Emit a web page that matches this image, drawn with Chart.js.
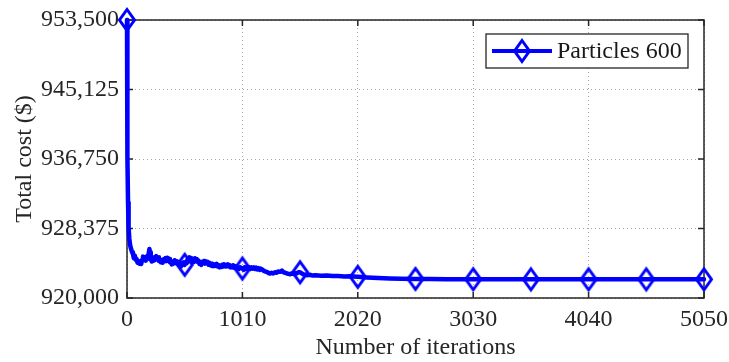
<!DOCTYPE html>
<html lang="en">
<head>
<meta charset="UTF-8">
<title>Total cost vs iterations</title>
<script src="https://cdn.jsdelivr.net/npm/chart.js"></script>
<style>
  body { margin: 0; background: #fff; }
</style>
</head>
<body>
<canvas id="chart" width="729" height="362"></canvas>
<script>
// values (iteration, total cost)
var iterations = [
  0, 2, 5, 9, 14, 20, 28, 36, 45, 52,
  60, 68, 76, 84, 92, 100, 108, 116, 124, 132,
  140, 148, 156, 164, 172, 180, 188, 196, 202, 208,
  216, 224, 232, 240, 248, 256, 264, 272, 280, 288,
  296, 304, 312, 320, 328, 336, 344, 352, 360, 368,
  376, 384, 392, 400, 408, 416, 424, 432, 440, 448,
  456, 464, 472, 480, 488, 496, 505, 514, 522, 530,
  538, 546, 554, 562, 570, 578, 586, 594, 602, 610,
  618, 626, 634, 642, 650, 658, 666, 674, 682, 690,
  698, 706, 714, 722, 730, 738, 746, 754, 762, 770,
  778, 786, 794, 802, 810, 818, 826, 834, 842, 850,
  858, 866, 874, 882, 890, 898, 906, 914, 922, 930,
  940, 950, 960, 970, 980, 990, 1010, 1020, 1030, 1040,
  1050, 1060, 1070, 1080, 1090, 1100, 1110, 1120, 1130, 1140,
  1150, 1160, 1170, 1181, 1195, 1210, 1225, 1240, 1252, 1265,
  1280, 1295, 1310, 1325, 1340, 1356, 1370, 1385, 1400, 1415,
  1427, 1440, 1455, 1470, 1485, 1500, 1515, 1530, 1545, 1560,
  1575, 1600, 1625, 1650, 1700, 1750, 1800, 1850, 1900, 1950,
  2020, 2100, 2200, 2300, 2400, 2525, 2650, 2800, 3030, 3535,
  4040, 4545, 5050
];
var totalCost = [
  953500, 945000, 937000, 931500, 928500, 927200, 926300, 925900, 925500, 925300,
  924800, 925100, 924600, 924700, 924250, 924450, 924150, 924350, 924100, 924600,
  925000, 924600, 924900, 924500, 925000, 924700, 925200, 925900, 925500, 924800,
  924400, 924750, 924500, 924900, 924600, 925050, 924700, 924900, 924450, 924650,
  924300, 924500, 924250, 924650, 924500, 924800, 924450, 924850, 924600, 924700,
  924300, 924450, 924050, 924350, 924150, 924550, 924250, 924450, 924150, 924350,
  923950, 924200, 923800, 924150, 924000, 924300, 924000, 924350, 924200, 924650,
  924400, 924900, 924550, 924800, 924400, 924650, 924350, 924800, 924500, 924700,
  924350, 924500, 924100, 924300, 924000, 924350, 924200, 924450, 924150, 924400,
  924200, 924350, 924000, 924250, 923950, 924150, 923850, 924100, 923850, 924050,
  923900, 924100, 923800, 923950, 923700, 923900, 923750, 924000, 923800, 924050,
  923800, 923950, 923850, 924050, 923800, 923950, 923700, 923850, 923700, 923950,
  923650, 923800, 923600, 923700, 923500, 923700, 923550, 923400, 923700, 923500,
  923750, 923550, 923700, 923500, 923700, 923550, 923700, 923500, 923650, 923450,
  923600, 923400, 923550, 923450, 923300, 923200, 923150, 923000, 922950, 923050,
  922950, 923100, 923050, 923200, 923150, 923300, 923100, 923050, 922950, 922900,
  922850, 922950, 922900, 923000, 922950, 923100, 923100, 922950, 922850, 922800,
  922750, 922800, 922700, 922750, 922680, 922700, 922640, 922650, 922600, 922610,
  922550, 922480, 922420, 922360, 922320, 922300, 922280, 922270, 922260, 922250,
  922250, 922250, 922250
];
var markerIterations = [0, 505, 1010, 1515, 2020, 2525, 3030, 3535, 4040, 4545, 5050];
var xTicks = [0, 1010, 2020, 3030, 4040, 5050];
var yTicks = [920000, 928375, 936750, 945125, 953500];
var seriesLabel = 'Particles 600';

var blue = '#0000ff';
var axisColor = '#262626';
var fontFamily = '"Liberation Serif", "Times New Roman", serif';

// tall hollow diamond marker
function makeDiamond() {
  var c = document.createElement('canvas');
  c.width = 22; c.height = 28;
  var g = c.getContext('2d');
  g.strokeStyle = blue;
  g.lineWidth = 3;
  g.lineJoin = 'miter';
  g.beginPath();
  g.moveTo(11, 3.5);
  g.lineTo(18.5, 14);
  g.lineTo(11, 24.5);
  g.lineTo(3.5, 14);
  g.closePath();
  g.stroke();
  return c;
}
var diamond = makeDiamond();

var points = iterations.map(function (x, i) { return { x: x, y: totalCost[i] }; });

// box around plot with inward ticks
var framePlugin = {
  id: 'frame',
  beforeDatasetsDraw: function (chart) {
    var a = chart.chartArea, c = chart.ctx;
    var xs = chart.scales.x, ys = chart.scales.y;
    c.save();
    c.strokeStyle = axisColor;
    c.lineWidth = 1.5;
    c.strokeRect(a.left, a.top, a.right - a.left, a.bottom - a.top);
    c.beginPath();
    xTicks.forEach(function (v) {
      var px = xs.getPixelForValue(v);
      c.moveTo(px, a.bottom); c.lineTo(px, a.bottom - 6);
      c.moveTo(px, a.top); c.lineTo(px, a.top + 6);
    });
    yTicks.forEach(function (v) {
      var py = ys.getPixelForValue(v);
      c.moveTo(a.left, py); c.lineTo(a.left + 6, py);
      c.moveTo(a.right, py); c.lineTo(a.right - 6, py);
    });
    c.stroke();
    c.restore();
  }
};

// boxed legend inside the plot, top right
var legendPlugin = {
  id: 'boxLegend',
  afterDraw: function (chart) {
    var a = chart.chartArea, c = chart.ctx;
    var right = a.right - 16, top = a.top + 14;
    var w = 202, h = 34, left = right - w, mid = top + h / 2;
    c.save();
    c.fillStyle = '#fff';
    c.fillRect(left, top, w, h);
    c.strokeStyle = axisColor;
    c.lineWidth = 1.3;
    c.strokeRect(left, top, w, h);
    c.strokeStyle = blue;
    c.lineWidth = 4;
    c.beginPath();
    c.moveTo(left + 6, mid); c.lineTo(left + 66, mid);
    c.stroke();
    c.drawImage(diamond, left + 36 - 11, mid - 14);
    c.fillStyle = '#1a1a1a';
    c.font = '24px ' + fontFamily;
    c.textBaseline = 'middle';
    c.fillText(chart.data.datasets[0].label, left + 71, mid + 1);
    c.restore();
  }
};

new Chart(document.getElementById('chart').getContext('2d'), {
  type: 'line',
  data: {
    datasets: [{
      label: seriesLabel,
      data: points,
      borderColor: blue,
      borderWidth: 4.5,
      tension: 0,
      clip: false,
      borderJoinStyle: 'round',
      borderCapStyle: 'round',
      pointStyle: diamond,
      pointRadius: function (ctx) {
        return ctx.raw && markerIterations.indexOf(ctx.raw.x) >= 0 ? 7 : 0;
      },
      pointHoverRadius: 0
    }]
  },
  options: {
    responsive: false,
    animation: false,
    events: [],
    layout: { padding: { top: 20, right: 25, left: 0, bottom: 0 } },
    plugins: {
      legend: { display: false },
      tooltip: { enabled: false }
    },
    scales: {
      x: {
        type: 'linear',
        min: 0,
        max: 5050,
        afterBuildTicks: function (s) { s.ticks = xTicks.map(function (v) { return { value: v }; }); },
        afterFit: function (s) { s.height = 64; s.paddingLeft = 0; s.paddingRight = 0; },
        ticks: {
          padding: 7,
          color: axisColor,
          font: { family: fontFamily, size: 24 },
          callback: function (v) { return String(v); }
        },
        grid: { color: '#a8a8a8', lineWidth: 1, drawTicks: false },
        border: { display: false, dash: [1, 3] },
        title: {
          display: true,
          text: 'Number of iterations',
          color: axisColor,
          font: { family: fontFamily, size: 24 },
          padding: { top: 0, bottom: 0 }
        }
      },
      y: {
        min: 920000,
        max: 953500,
        afterBuildTicks: function (s) { s.ticks = yTicks.map(function (v) { return { value: v }; }); },
        afterFit: function (s) { s.width = 127; s.paddingTop = 0; s.paddingBottom = 0; },
        ticks: {
          padding: 8,
          color: axisColor,
          font: { family: fontFamily, size: 24 },
          callback: function (v) { return v.toLocaleString('en-US'); }
        },
        grid: { color: '#a8a8a8', lineWidth: 1, drawTicks: false },
        border: { display: false, dash: [1, 3] },
        title: {
          display: true,
          text: 'Total cost ($)',
          color: axisColor,
          font: { family: fontFamily, size: 24 },
          padding: { top: 10, bottom: 0 }
        }
      }
    }
  },
  plugins: [framePlugin, legendPlugin]
});
</script>
</body>
</html>
